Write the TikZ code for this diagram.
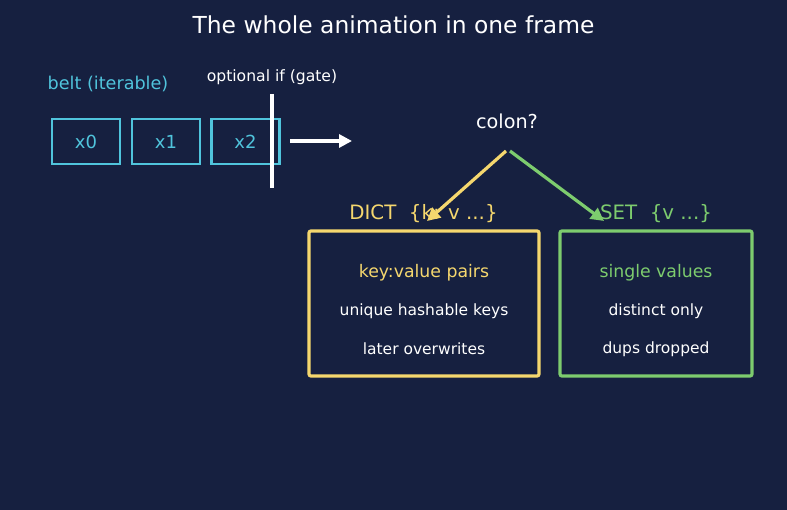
\documentclass[tikz,border=0pt]{standalone}
\usepackage{fontspec}
\setmainfont{DejaVu Sans}
\usetikzlibrary{arrows.meta}
\definecolor{bg}{RGB}{22,32,64}
\definecolor{cyanc}{RGB}{80,196,220}
\definecolor{yel}{RGB}{245,215,110}
\definecolor{grn}{RGB}{125,204,110}
\newcommand{\fs}[1]{\fontsize{#1}{#1}\selectfont}
\begin{document}
\begin{tikzpicture}[x=1pt,y=-1pt,
  beltbox/.style={draw=cyanc,line width=2.8pt,minimum width=68pt,minimum height=45pt,inner sep=0pt,text=cyanc,font=\fs{18}},
  bigbox/.style={line width=3.2pt,rounded corners=2pt},
  lbl/.style={inner sep=0pt,anchor=center},
  arr/.style={line width=3.2pt,-{Triangle[length=13pt,width=13pt]}}
]
\fill[bg] (0,0) rectangle (787,510);
\useasboundingbox (0,0) rectangle (787,510);
\node[lbl,text=white,font=\fs{23.4}] (title) at (393.5,25) {The whole animation in one frame};
\node[lbl,text=cyanc,font=\fs{17.6}] (belt) at (108,84) {belt (iterable)};
\node[lbl,text=white,font=\fs{15.6}] (opt) at (272,77) {optional if (gate)};
\node[beltbox] (x0) at (86,141.5) {x0};
\node[beltbox] (x1) at (166,141.5) {x1};
\node[beltbox] (x2) at (245.5,141.5) {x2};
\coordinate (gt) at (272,94);
\coordinate (gb) at (272,188);
\draw[white,line width=3.2pt] (gt) -- (gb);
\coordinate (as) at (290,141);
\coordinate (ae) at (352,141);
\draw[arr,white] (as) -- (ae);
\node[lbl,text=white,font=\fs{19.2}] (colon) at (507,121) {colon?};
\coordinate (cl) at (506,151);
\coordinate (cr) at (510,151);
\coordinate (dl) at (427,221);
\coordinate (sr) at (604,221);
\node[lbl,text=yel,font=\fs{19.8}] (dict) at (423.5,213.5) {DICT\ \ \{k: v ...\}};
\node[lbl,text=grn,font=\fs{19.8}] (set) at (656,213.5) {SET\ \ \{v ...\}};
\draw[arr,yel] (cl) -- (dl);
\draw[arr,grn] (cr) -- (sr);
\draw[bigbox,yel] (309,231) rectangle (539,376);
\draw[bigbox,grn] (560,231) rectangle (752,376);
\node[lbl,text=yel,font=\fs{17.3}] (d1) at (424,273) {key:value pairs};
\node[lbl,text=white,font=\fs{15.5}] (d2) at (424,311) {unique hashable keys};
\node[lbl,text=white,font=\fs{15.5}] (d3) at (424,349) {later overwrites};
\node[lbl,text=grn,font=\fs{17.3}] (s1) at (656,273) {single values};
\node[lbl,text=white,font=\fs{15.5}] (s2) at (656,311) {distinct only};
\node[lbl,text=white,font=\fs{15.5}] (s3) at (656,349) {dups dropped};
\end{tikzpicture}
\end{document}
